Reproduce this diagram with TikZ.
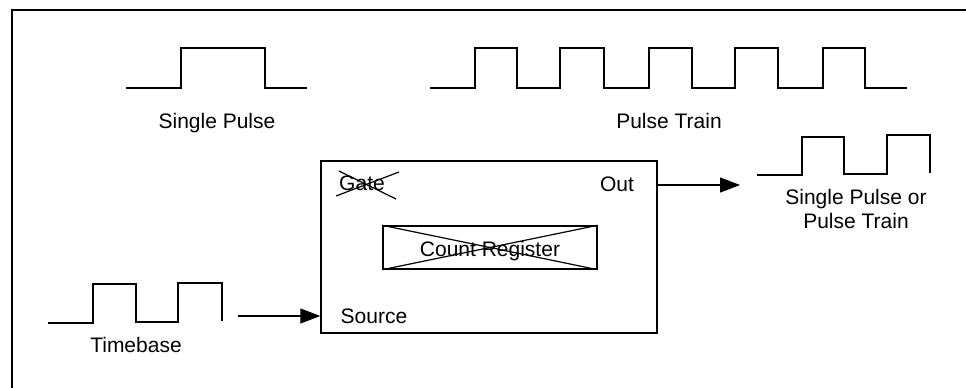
\documentclass[tikz,border=0pt]{standalone}
\usepackage{fontspec}
\setmainfont{Liberation Sans}
\usetikzlibrary{arrows.meta}
\begin{document}
\begin{tikzpicture}[x=1pt,y=-1pt,
  wave/.style={line width=1.3pt},
  lbl/.style={inner sep=0pt,anchor=base,font=\fontsize{21}{24}\selectfont},
  conn/.style={line width=1.3pt,-{Triangle[length=20pt,width=15pt]}},
  boxstyle/.style={draw,line width=1.4pt,rectangle,inner sep=0pt},
  xline/.style={line width=1.2pt}]
\useasboundingbox (0,0) rectangle (966,388);
% frame (only top and left visible)
\draw[line width=2.4pt] (12,388) -- (12,10) -- (966,10);
% single pulse
\draw[wave] (126,88) -- (181,88) -- (181,48) -- (265,48) -- (265,88) -- (307,88);
\node[lbl] (sp) at (217,128) {Single Pulse};
% pulse train
\draw[wave] (430,88) -- (475,88) -- (475,48) -- (517,48) -- (517,88)
  -- (560,88) -- (560,48) -- (604,48) -- (604,88)
  -- (649,88) -- (649,48) -- (692,48) -- (692,88)
  -- (735,88) -- (735,48) -- (778,48) -- (778,88)
  -- (823,88) -- (823,48) -- (865,48) -- (865,88) -- (907,88);
\node[lbl] (pt) at (669,128) {Pulse Train};
% counter box
\node[boxstyle,minimum width=336pt,minimum height=172pt] (box) at (489,247) {};
\node[lbl] (gate) at (362,190) {Gate};
\draw[xline] (336,196) -- (399,172);
\draw[xline] (339,171) -- (396,199);
\node[lbl] (out) at (617,191) {Out};
\node[lbl] (src) at (374,323) {Source};
\node[boxstyle,minimum width=214pt,minimum height=43pt] (cr) at (490,247.5) {};
\draw[xline] (cr.north west) -- (cr.south east);
\draw[xline] (cr.south west) -- (cr.north east);
\node[lbl] (crt) at (490,256) {Count Register};
% output
\coordinate (outend) at (740,185);
\draw[conn] (box.east |- outend) -- (outend);
\draw[wave] (757,175) -- (802,175) -- (802,137) -- (844,137) -- (844,174)
  -- (887,174) -- (887,135) -- (930,135) -- (930,173);
\node[lbl,align=center] (spo) at (856,228) {Single Pulse or\\Pulse Train};
% timebase
\draw[wave] (48,323) -- (93,323) -- (93,284) -- (136,284) -- (136,322)
  -- (178,322) -- (178,283) -- (222,283) -- (222,321);
\node[lbl] (tb) at (136,352) {Timebase};
\coordinate (tbstart) at (238,316);
\draw[conn] (tbstart) -- (box.west |- tbstart);
\end{tikzpicture}
\end{document}
